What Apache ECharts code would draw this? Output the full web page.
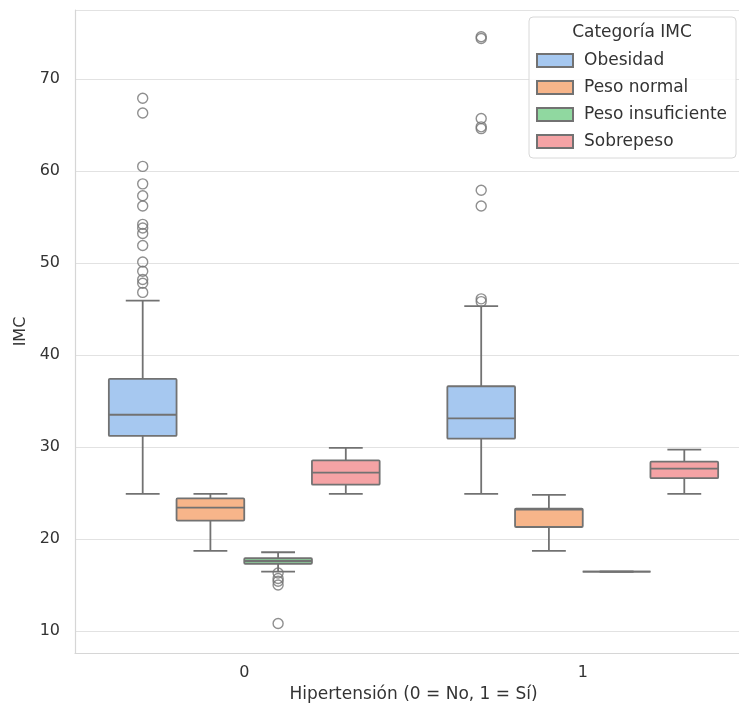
<!DOCTYPE html>
<html>
<head>
<meta charset="utf-8">
<script src="https://cdn.jsdelivr.net/npm/echarts@6/dist/echarts.min.js"></script>
<style>html,body{margin:0;padding:0;background:#fff;}#c{width:739px;height:711px;}</style>
</head>
<body>
<div id="c"></div>
<script>
// ---- data ----
const categories = ['0', '1'];
const hues = ['Obesidad', 'Peso normal', 'Peso insuficiente', 'Sobrepeso'];
// [lower whisker, q1, median, q3, upper whisker] per category
const obesidadStats = [[24.9, 31.2, 33.5, 37.4, 45.9], [24.9, 30.9, 33.1, 36.6, 45.3]];
const pesoNormalStats = [[18.7, 22.0, 23.4, 24.4, 24.9], [18.7, 21.3, 23.2, 23.3, 24.8]];
const pesoInsuficienteStats = [[16.45, 17.3, 17.6, 17.9, 18.55], [16.45, 16.45, 16.45, 16.45, 16.45]];
const sobrepesoStats = [[24.9, 25.9, 27.2, 28.55, 29.9], [24.9, 26.6, 27.65, 28.4, 29.7]];
const obesidadOutliers = [
  [67.9, 66.3, 60.5, 58.6, 57.3, 56.2, 54.2, 53.8, 53.2, 51.9, 50.1, 49.1, 48.2, 47.8, 46.8],
  [74.6, 74.4, 65.7, 64.8, 64.6, 57.9, 56.2, 46.1, 45.8]
];
const pesoNormalOutliers = [[], []];
const pesoInsuficienteOutliers = [[16.3, 15.7, 15.4, 15.0, 10.8], []];
const sobrepesoOutliers = [[], []];
const yTicks = [10, 20, 30, 40, 50, 60, 70];

// ---- styling ----
const fills = ['#a6c8f0', '#f7b58a', '#90d8a0', '#f5a3a5'];
const lineColor = '#727272';
const FONT = 'DejaVu Sans';
const statsByHue = [obesidadStats, pesoNormalStats, pesoInsuficienteStats, sobrepesoStats];
const outliersByHue = [obesidadOutliers, pesoNormalOutliers, pesoInsuficienteOutliers, sobrepesoOutliers];
const GROUP_W = 0.8;
const BOX_W = GROUP_W / hues.length;
function hueOffset(h) { return -GROUP_W / 2 + BOX_W * (h + 0.5); }

function renderBox(params, api) {
  const x = api.value(0);
  const lo = api.coord([x, api.value(1)]);
  const q1 = api.coord([x, api.value(2)]);
  const md = api.coord([x, api.value(3)]);
  const q3 = api.coord([x, api.value(4)]);
  const hi = api.coord([x, api.value(5)]);
  const w = api.size([BOX_W, 0])[0];
  const cx = lo[0];
  const capW = w / 2;
  const ls = { stroke: lineColor, lineWidth: 1.8 };
  const fill = api.visual('color');
  return {
    type: 'group',
    children: [
      { type: 'line', shape: { x1: cx, y1: lo[1], x2: cx, y2: q1[1] }, style: ls },
      { type: 'line', shape: { x1: cx, y1: q3[1], x2: cx, y2: hi[1] }, style: ls },
      { type: 'line', shape: { x1: cx - capW / 2, y1: lo[1], x2: cx + capW / 2, y2: lo[1] }, style: ls },
      { type: 'line', shape: { x1: cx - capW / 2, y1: hi[1], x2: cx + capW / 2, y2: hi[1] }, style: ls },
      { type: 'rect', shape: { x: cx - w / 2, y: q3[1], width: w, height: q1[1] - q3[1], r: 1 },
        style: { fill: fill, stroke: lineColor, lineWidth: 1.8 } },
      { type: 'line', shape: { x1: cx - w / 2, y1: md[1], x2: cx + w / 2, y2: md[1] }, style: ls }
    ]
  };
}

const series = [];
hues.forEach(function (name, h) {
  const data = categories.map(function (c, ci) {
    return [ci + hueOffset(h)].concat(statsByHue[h][ci]);
  });
  series.push({
    name: name,
    type: 'custom',
    xAxisIndex: 1,
    yAxisIndex: 0,
    renderItem: renderBox,
    itemStyle: { color: fills[h], borderColor: lineColor, borderWidth: 1.5 },
    encode: { x: 0, y: [1, 2, 3, 4, 5] },
    data: data,
    z: 3
  });
});
hues.forEach(function (name, h) {
  const pts = [];
  categories.forEach(function (c, ci) {
    outliersByHue[h][ci].forEach(function (v) { pts.push([ci + hueOffset(h), v]); });
  });
  series.push({
    name: 'out_' + name,
    type: 'scatter',
    xAxisIndex: 1,
    yAxisIndex: 0,
    symbol: 'circle',
    symbolSize: 10,
    itemStyle: { color: 'rgba(255,255,255,0)', borderColor: '#737373', borderWidth: 1.4 },
    data: pts,
    z: 4
  });
});

const chart = echarts.init(document.getElementById('c'), null, { renderer: 'canvas' });
chart.setOption({
  animation: false,
  backgroundColor: '#fff',
  textStyle: { fontFamily: FONT },
  grid: { left: 75, top: 10, bottom: 58, right: -13, containLabel: false, outerBoundsMode: 'none' },
  xAxis: [
    {
      type: 'category',
      data: categories,
      boundaryGap: true,
      name: 'Hipertensión (0 = No, 1 = Sí)',
      nameLocation: 'middle',
      nameGap: 32,
      nameTextStyle: { fontFamily: FONT, fontSize: 17, color: '#333' },
      axisLine: { show: true, onZero: false, lineStyle: { color: '#d6d6d6', width: 1.2 } },
      axisTick: { show: false },
      axisLabel: { fontFamily: FONT, fontSize: 16, color: '#333', margin: 12 },
      splitLine: { show: false }
    },
    {
      type: 'value',
      min: -0.5,
      max: 1.5,
      show: false,
      axisLine: { onZero: false },
      splitLine: { show: false }
    }
  ],
  yAxis: {
    type: 'value',
    min: 7.6,
    max: 77.5,
    splitNumber: 7,
    name: 'IMC',
    nameLocation: 'middle',
    nameGap: 46,
    nameTextStyle: { fontFamily: FONT, fontSize: 16, color: '#333' },
    axisLine: { show: true, onZero: false, lineStyle: { color: '#d6d6d6', width: 1.2 } },
    axisTick: { show: false },
    axisLabel: {
      fontFamily: FONT, fontSize: 16, color: '#333', margin: 15,
      formatter: function (v) { return yTicks.indexOf(Math.round(v * 1000) / 1000) >= 0 ? String(v) : ''; }
    },
    splitLine: { show: true, lineStyle: { color: '#e2e2e2', width: 1.2 } }
  },
  legend: {
    orient: 'vertical',
    left: 529,
    top: 17,
    data: hues,
    icon: 'rect',
    itemWidth: 36,
    itemHeight: 13,
    itemGap: 10,
    padding: [35, 9, 8, 7],
    backgroundColor: 'rgba(255,255,255,0.85)',
    borderColor: '#d8d8d8',
    borderWidth: 1,
    borderRadius: 4,
    textStyle: { fontFamily: FONT, fontSize: 17, color: '#333', padding: [0, 0, 0, 6] },
    z: 10
  },
  graphic: [
    {
      type: 'text', x: 632, y: 33, z: 100,
      style: { text: 'Categoría IMC', fontFamily: FONT, fontSize: 17, fill: '#333', align: 'center', verticalAlign: 'middle' }
    }
  ],
  series: series
});
</script>
</body>
</html>
